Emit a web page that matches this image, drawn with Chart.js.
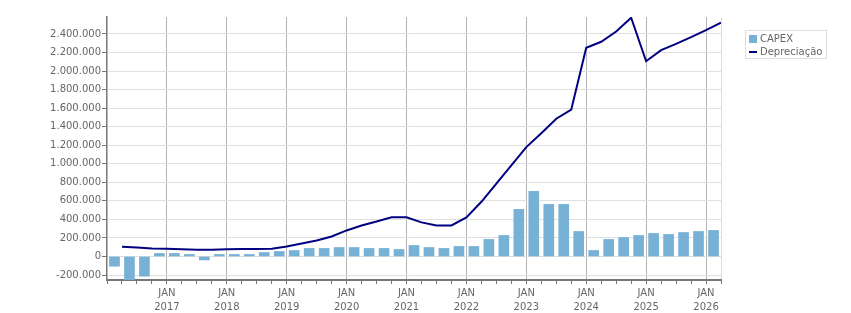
<!DOCTYPE html>
<html>
<head>
<meta charset="utf-8">
<script src="https://cdn.jsdelivr.net/npm/chart.js@4.4.1/dist/chart.umd.min.js"></script>
<style>
  html, body { margin: 0; padding: 0; background: #fff; }
  #wrap { width: 851px; height: 313px; position: relative; }
</style>
</head>
<body>
<div id="wrap"><canvas id="chart"></canvas></div>
<script>
// Quarterly data, 2016 Q1 .. 2026 Q1
const quarters = [
  '2016T1', '2016T2', '2016T3', '2016T4',
  '2017T1', '2017T2', '2017T3', '2017T4',
  '2018T1', '2018T2', '2018T3', '2018T4',
  '2019T1', '2019T2', '2019T3', '2019T4',
  '2020T1', '2020T2', '2020T3', '2020T4',
  '2021T1', '2021T2', '2021T3', '2021T4',
  '2022T1', '2022T2', '2022T3', '2022T4',
  '2023T1', '2023T2', '2023T3', '2023T4',
  '2024T1', '2024T2', '2024T3', '2024T4',
  '2025T1', '2025T2', '2025T3', '2025T4',
  '2026T1'
];

const capex = [
  -105000, -262000, -213000, 33000,
  33000, 22000, -37000, 22000,
  22000, 22000, 43000, 54000,
  65000, 87000, 87000, 97000,
  97000, 87000, 87000, 76000,
  119000, 97000, 87000, 108000,
  108000, 184000, 227000, 508000,
  703000, 562000, 562000, 270000,
  65000, 184000, 205000, 227000,
  249000, 238000, 259000, 270000,
  281000
];

// plotted at the end of each quarter
const depreciacao = [
  106000, 97000, 86000, 83000,
  78000, 72000, 72000, 78000,
  80000, 80000, 84000, 108000,
  141000, 173000, 216000, 281000,
  335000, 378000, 422000, 422000,
  368000, 335000, 335000, 422000,
  590000, 786000, 984000, 1180000,
  1330000, 1486000, 1584000, 2251000,
  2316000, 2427000, 2575000, 2106000,
  2225000, 2294000, 2365000, 2441000,
  2521000
];

const yearLabels = ['2017', '2018', '2019', '2020', '2021', '2022', '2023', '2024', '2025', '2026'];
const monthLabel = 'JAN';

const barColor = '#77b1d5';
const lineColor = '#000080';
const textColor = '#666666';
const fontFamily = '"DejaVu Sans", Verdana, sans-serif';

function fmt(v) {
  return v.toString().replace(/\B(?=(\d{3})+(?!\d))/g, '.');
}

// legend drawn in a bordered box like the original
const boxLegend = {
  id: 'boxLegend',
  afterDraw(chart) {
    const ctx = chart.ctx;
    const x = chart.chartArea.right + 24;
    const y = 30;
    const labels = [chart.data.datasets[1].label, chart.data.datasets[0].label];
    ctx.save();
    ctx.font = '10px ' + fontFamily;
    const w = Math.max(...labels.map(t => ctx.measureText(t).width));
    ctx.strokeStyle = '#dddddd';
    ctx.lineWidth = 1;
    ctx.strokeRect(x + 0.5, y + 0.5, Math.ceil(w) + 18, 28);

    ctx.fillStyle = barColor;
    ctx.fillRect(x + 4, y + 5, 8, 8);
    ctx.strokeStyle = lineColor;
    ctx.lineWidth = 2;
    ctx.beginPath();
    ctx.moveTo(x + 4, y + 22);
    ctx.lineTo(x + 12, y + 22);
    ctx.stroke();

    ctx.fillStyle = textColor;
    ctx.textBaseline = 'middle';
    ctx.fillText(labels[0], x + 15, y + 9);
    ctx.fillText(labels[1], x + 15, y + 22);
    ctx.restore();
  }
};

new Chart(document.getElementById('chart').getContext('2d'), {
  type: 'bar',
  data: {
    datasets: [
      {
        type: 'line',
        label: 'Depreciação',
        data: depreciacao.map((v, i) => ({ x: i + 1, y: v })),
        borderColor: lineColor,
        backgroundColor: lineColor,
        borderWidth: 2,
        pointRadius: 0,
        tension: 0,
        fill: false,
        order: 0
      },
      {
        type: 'bar',
        label: 'CAPEX',
        data: capex.map((v, i) => ({ x: i + 0.5, y: v })),
        backgroundColor: barColor,
        borderWidth: 0,
        barThickness: 10,
        order: 1
      }
    ]
  },
  options: {
    responsive: true,
    maintainAspectRatio: false,
    animation: false,
    layout: { padding: { top: 17, right: 130, left: 0, bottom: 0 } },
    plugins: {
      legend: { display: false },
      tooltip: { enabled: false }
    },
    scales: {
      x: {
        type: 'linear',
        min: 0,
        max: quarters.length,
        offset: false,
        afterFit: scale => { scale.height = 33; },
        grid: {
          offset: false,
          color: ctx => {
            const k = ctx.tick ? ctx.tick.value : -1;
            if (k === quarters.length) return '#dddddd';
            return (k > 0 && k % 4 === 0) ? '#b4b4b4' : 'rgba(0,0,0,0)';
          },
          tickColor: '#777777',
          tickLength: 4,
          lineWidth: 1
        },
        border: { color: '#777777', width: 2 },
        ticks: {
          stepSize: 1,
          autoSkip: false,
          maxRotation: 0,
          padding: 3,
          color: textColor,
          font: { family: fontFamily, size: 10, lineHeight: 1.35 },
          callback: function(value) {
            const k = Math.round(value);
            const idx = k / 4 - 1;
            if (k > 0 && k % 4 === 0 && idx < yearLabels.length) {
              return [monthLabel, yearLabels[idx]];
            }
            return '';
          }
        }
      },
      y: {
        min: -253500,
        max: 2583000,
        afterFit: scale => { scale.width = 107; },
        afterBuildTicks: scale => {
          const ticks = [];
          for (let v = -200000; v <= 2400000; v += 200000) ticks.push({ value: v });
          scale.ticks = ticks;
        },
        grid: {
          color: '#e0e0e0',
          tickColor: '#777777',
          tickLength: 5,
          lineWidth: 1
        },
        border: { color: '#777777', width: 1.5 },
        ticks: {
          padding: 1,
          color: textColor,
          font: { family: fontFamily, size: 10 },
          callback: v => fmt(v)
        }
      }
    }
  },
  plugins: [boxLegend]
});
</script>
</body>
</html>
